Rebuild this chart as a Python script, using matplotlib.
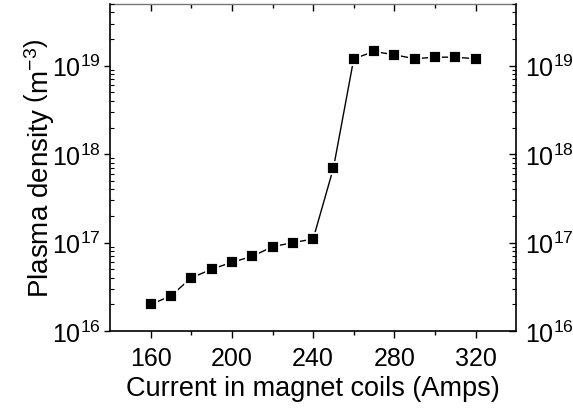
import matplotlib
matplotlib.use("Agg")
import matplotlib.pyplot as plt
from matplotlib.ticker import FixedLocator, NullFormatter, LogFormatterSciNotation

plt.rcParams['font.family'] = ['Liberation Sans', 'DejaVu Sans']
plt.rcParams['mathtext.fontset'] = 'custom'
plt.rcParams['mathtext.rm'] = 'Liberation Sans'
plt.rcParams['mathtext.it'] = 'Liberation Sans:italic'
plt.rcParams['mathtext.bf'] = 'Liberation Sans:bold'

current = [160, 170, 180, 190, 200, 210, 220, 230, 240, 250, 260, 270, 280, 290, 300, 310, 320]
density = [2.0e16, 2.5e16, 4.0e16, 5.0e16, 6.0e16, 7.0e16, 9.0e16, 1.0e17, 1.1e17, 7.0e17,
           1.2e19, 1.45e19, 1.33e19, 1.2e19, 1.25e19, 1.25e19, 1.2e19]
xticks = [160, 200, 240, 280, 320]
xminor = [180, 220, 260, 300]
yticks = [1e16, 1e17, 1e18, 1e19]
yminor = [m * 10.0**e for e in (16, 17, 18, 19) for m in range(2, 10) if m * 10.0**e <= 5e19]

fig = plt.figure(figsize=(5.73, 4.10), dpi=100)
ax = fig.add_axes([0.192, 0.190, 0.709, 0.798])
ax.plot(current, density, color='black', lw=1.0, marker='s', markersize=8.5,
        markerfacecolor='black', markeredgecolor='white', markeredgewidth=1.3)
ax.set_yscale('log')
ax.set_xlim(140, 340)
ax.set_ylim(1e16, 5e19)
ax.xaxis.set_major_locator(FixedLocator(xticks))
ax.xaxis.set_minor_locator(FixedLocator(xminor))
ax.yaxis.set_major_locator(FixedLocator(yticks))
ax.yaxis.set_major_formatter(LogFormatterSciNotation())
ax.yaxis.set_minor_locator(FixedLocator(yminor))
ax.yaxis.set_minor_formatter(NullFormatter())

ax.tick_params(axis='x', which='both', direction='out', labelsize=18, pad=6)
ax.tick_params(axis='x', which='major', length=5, width=1)
ax.tick_params(axis='x', which='minor', length=3, width=1)
ax.tick_params(axis='y', which='major', direction='out', length=4, width=1, labelsize=18, pad=3)
ax.tick_params(axis='y', which='minor', direction='in', length=3, width=0.8)

# top axis: ticks pointing inward, no labels
top = ax.secondary_xaxis('top')
top.xaxis.set_major_locator(FixedLocator(xticks))
top.xaxis.set_minor_locator(FixedLocator(xminor))
top.tick_params(axis='x', which='both', direction='in', labeltop=False, width=1)
top.tick_params(axis='x', which='major', length=5)
top.tick_params(axis='x', which='minor', length=3)
top.spines['top'].set_linewidth(1.0)
top.spines['top'].set_color('#777777')

# right axis: ticks inward, labels on the right
right = ax.secondary_yaxis('right')
right.yaxis.set_major_locator(FixedLocator(yticks))
right.yaxis.set_major_formatter(LogFormatterSciNotation())
right.yaxis.set_minor_locator(FixedLocator(yminor))
right.yaxis.set_minor_formatter(NullFormatter())
right.tick_params(axis='y', which='major', direction='in', length=5, width=1, labelsize=18, pad=6)
right.tick_params(axis='y', which='minor', direction='in', length=3, width=0.8)
right.spines['right'].set_linewidth(1.2)

for s in ['left', 'bottom']:
    ax.spines[s].set_linewidth(1.2)
ax.spines['top'].set_visible(False)
ax.spines['right'].set_visible(False)

ax.set_xlabel('Current in magnet coils (Amps)', fontsize=19.5, labelpad=3)
ax.set_ylabel(r'Plasma density $\left(\mathrm{m}^{-3}\right)$', fontsize=20, labelpad=-3)

fig.savefig('out.png', dpi=100)
